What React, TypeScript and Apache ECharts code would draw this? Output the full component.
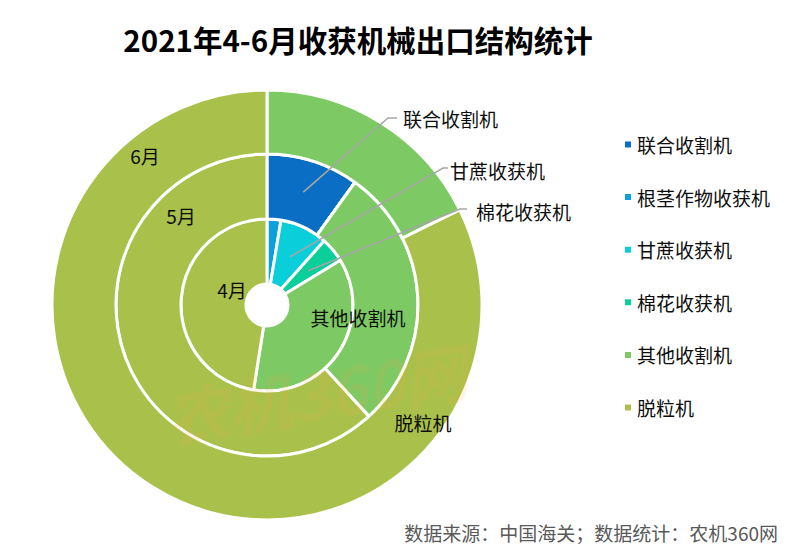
import React, { useEffect, useRef } from "react";
import * as echarts from "echarts";

// ---- data ----
const categories = ["联合收割机", "根茎作物收获机", "甘蔗收获机", "棉花收获机", "其他收割机", "脱粒机"];
const months = ["4月", "5月", "6月"];
const aprilShares = [0, 2.6, 9.0, 4.7, 36.2, 47.5];
const mayShares = [9.9, 0, 0, 0, 28.3, 61.8];
const juneShares = [0, 0, 0, 0, 17.7, 82.3];
const monthShares = [aprilShares, mayShares, juneShares];

const colors = ["#0A6FC4", "#0AA0DC", "#0ACFDA", "#0ACF9A", "#7DC964", "#A9C14A"];

// ---- layout ----
const W = 796;
const H = 555;
const CX = 267;
const CY = 305;
const RINGS: [number, number][] = [
  [21, 86],
  [86, 151],
  [151, 215],
];
const FONT = "'Noto Sans CJK SC', 'Noto Sans', sans-serif";
const TEXT_COLOR = "#0D0D0D";

// callout labels (ring index, category index, bend point, end point, text anchor)
const callouts = [
  { ring: 1, idx: 0, bend: [388, 118], end: [397, 118], text: [403, 118] },
  { ring: 0, idx: 2, bend: [443, 168], end: [448, 168], text: [450, 170] },
  { ring: 0, idx: 3, bend: [460, 209], end: [467, 209], text: [476, 211] },
];
const insideLabels = [
  { ring: 0, idx: 4, pos: [358, 317] },
  { ring: 2, idx: 5, pos: [423, 422] },
];
const monthLabelPos = [
  [232, 289],
  [181, 215],
  [145, 155],
];

function sliceMid(shares: number[], idx: number, ring: number): number[] {
  const total = shares.reduce((a, b) => a + b, 0);
  let before = 0;
  for (let i = 0; i < idx; i++) before += shares[i];
  const ang = ((before + shares[idx] / 2) / total) * Math.PI * 2;
  const r = (RINGS[ring][0] + RINGS[ring][1]) / 2;
  return [CX + r * Math.sin(ang), CY - r * Math.cos(ang)];
}

export default function App() {
  const ref = useRef<HTMLDivElement>(null);

  useEffect(() => {
    if (!ref.current) return;
    const chart = echarts.init(ref.current, undefined, { renderer: "svg" });

    const series = monthShares.map((shares, ring) => ({
      type: "pie",
      name: months[ring],
      center: [CX, CY],
      radius: RINGS[ring],
      startAngle: 90,
      clockwise: true,
      silent: true,
      avoidLabelOverlap: false,
      itemStyle: { borderColor: "#ffffff", borderWidth: 3 },
      label: {
        show: false,
        color: TEXT_COLOR,
        fontSize: 19,
        fontFamily: FONT,
      },
      labelLine: { show: false },
      emphasis: { disabled: true },
      data: categories.map((name, i) => {
        const co = callouts.find((c) => c.ring === ring && c.idx === i);
        const il = insideLabels.find((c) => c.ring === ring && c.idx === i);
        return {
          name,
          value: shares[i],
          label: {
            show: !!(co || il),
            position: co ? "outside" : "inside",
          },
          labelLine: { show: false },
        };
      }),
      labelLayout: (params: any) => {
        const co = callouts.find((c) => c.ring === ring && c.idx === params.dataIndex);
        if (co) {
          return { x: co.text[0], y: co.text[1], align: "left", verticalAlign: "middle" };
        }
        const il = insideLabels.find((c) => c.ring === ring && c.idx === params.dataIndex);
        if (il) {
          return { x: il.pos[0], y: il.pos[1], align: "center", verticalAlign: "middle" };
        }
        return {};
      },
    }));

    const leaderLines = callouts.map((co) => ({
      type: "polyline",
      z: 15,
      silent: true,
      shape: { points: [sliceMid(monthShares[co.ring], co.idx, co.ring), co.bend, co.end] },
      style: { stroke: "#A6A6A6", lineWidth: 1.6, fill: "none" },
    }));

    const option: any = {
      animation: false,
      color: colors,
      backgroundColor: "#ffffff",
      textStyle: { fontFamily: FONT },
      legend: {
        orient: "vertical",
        left: 618,
        top: 130,
        itemWidth: 8,
        itemHeight: 8,
        itemGap: 33.6,
        icon: "rect",
        selectedMode: false,
        textStyle: { fontSize: 19, color: TEXT_COLOR, fontFamily: FONT },
        data: categories,
      },
      series,
      graphic: [
        ...leaderLines,
        {
          type: "text",
          x: 358,
          y: 39,
          style: {
            text: "2021年4-6月收获机械出口结构统计",
            font: `bold 29.5px ${FONT}`,
            fill: "#000000",
            align: "center",
            verticalAlign: "middle",
          },
        },
        ...months.map((m, i) => ({
          type: "text",
          x: monthLabelPos[i][0],
          y: monthLabelPos[i][1],
          z: 10,
          style: {
            text: m,
            font: `19px ${FONT}`,
            fill: TEXT_COLOR,
            align: "center",
            verticalAlign: "middle",
          },
        })),
        {
          type: "text",
          x: 778,
          y: 532,
          style: {
            text: "数据来源：中国海关；数据统计：农机360网",
            font: `19px ${FONT}`,
            fill: "#595959",
            align: "right",
            verticalAlign: "middle",
          },
        },
        {
          type: "text",
          x: 315,
          y: 392,
          rotation: 0.16,
          z: 20,
          silent: true,
          style: {
            text: "农机360网",
            font: `italic bold 64px ${FONT}`,
            fill: "rgba(240,170,80,0.14)",
            align: "center",
            verticalAlign: "middle",
          },
        },
      ],
    };

    chart.setOption(option);
    return () => chart.dispose();
  }, []);

  return (
    <div
      ref={ref}
      style={{ position: "fixed", left: 0, top: 0, width: W, height: H, background: "#fff" }}
    />
  );
}
